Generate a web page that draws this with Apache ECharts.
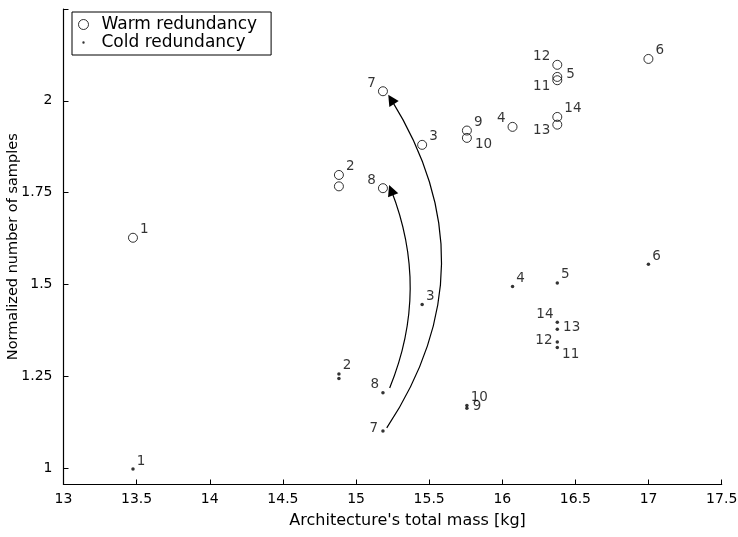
<!DOCTYPE html>
<html>
<head>
<meta charset="utf-8">
<script src="https://cdn.jsdelivr.net/npm/echarts@6/dist/echarts.min.js"></script>
<style>
html,body{margin:0;padding:0;background:#fff;}
#chart{width:738px;height:537px;}
</style>
</head>
<body>
<div id="chart"></div>
<script>
// ---- data ----
const xTicks = [13, 13.5, 14, 14.5, 15, 15.5, 16, 16.5, 17, 17.5];
const yTickLabels = [1, 1.25, 1.5, 1.75, 2];

// Warm redundancy (hollow circles)
const warmMass    = [13.475, 14.883, 14.883, 15.452, 16.07, 16.376, 16.999, 15.184, 15.184, 15.758, 15.758, 16.376, 16.376, 16.376, 16.376];
const warmSamples = [1.627, 1.798, 1.767, 1.880, 1.929, 2.065, 2.114, 2.026, 1.762, 1.919, 1.899, 2.056, 2.098, 1.935, 1.956];
const warmLabels  = ['1', '2', '', '3', '4', '5', '6', '7', '8', '9', '10', '11', '12', '13', '14'];
const warmPlace   = ['ur','ur','none','ur','ul','r','ur','ul','ul','ur','dr','dl','ul','dl','ur'];

// Cold redundancy (dots)
const coldMass    = [13.475, 14.883, 14.883, 15.452, 16.07, 16.376, 16.999, 15.184, 15.184, 15.758, 15.758, 16.376, 16.376, 16.376, 16.376];
const coldSamples = [0.997, 1.256, 1.244, 1.445, 1.494, 1.504, 1.555, 1.101, 1.205, 1.163, 1.170, 1.328, 1.343, 1.378, 1.397];
const coldLabels  = ['1', '2', '', '3', '4', '5', '6', '7', '8', '9', '10', '11', '12', '13', '14'];
const coldPlace   = ['ur','ur','none','ur','ur','ur','ur','l','ul','r','ur','dr','l','r','ul'];

// Arrows (cold -> warm for configurations 7 and 8)
const arrowStart = [[15.21, 1.109], [15.23, 1.218]];
const arrowEnd   = [[15.24, 2.004], [15.24, 1.757]];
const arrowCurve = [-0.32, -0.2];

// ---- styling helpers ----
const FONT = 'DejaVu Sans';
function labelFor(text, code) {
  if (code === 'none' || !text) return { show: false };
  const base = { show: true, formatter: text, color: '#000', fontFamily: FONT, fontSize: 13.5 };
  switch (code) {
    case 'ur': return Object.assign(base, { position: 'right', distance: 2, offset: [0, -8] });
    case 'r':  return Object.assign(base, { position: 'right', distance: 4, offset: [0, -2] });
    case 'dr': return Object.assign(base, { position: 'right', distance: 3, offset: [0, 7] });
    case 'ul': return Object.assign(base, { position: 'left', distance: 2, offset: [0, -8] });
    case 'l':  return Object.assign(base, { position: 'left', distance: 3, offset: [0, -2] });
    case 'dl': return Object.assign(base, { position: 'left', distance: 2, offset: [0, 6] });
  }
  return { show: false };
}

const warmData = warmMass.map((x, i) => ({ value: [x, warmSamples[i]], label: labelFor(warmLabels[i], warmPlace[i]) }));
const coldData = coldMass.map((x, i) => ({ value: [x, coldSamples[i]], label: labelFor(coldLabels[i], coldPlace[i]) }));
const arrowData = arrowStart.map((s, i) => ({ coords: [s, arrowEnd[i]], lineStyle: { curveness: arrowCurve[i] } }));

const chart = echarts.init(document.getElementById('chart'), null, { renderer: 'canvas' });
chart.setOption({
  animation: false,
  backgroundColor: '#fff',
  textStyle: { fontFamily: FONT, color: '#000' },
  grid: { left: 63.5, right: 16.3, top: 9, bottom: 52.5, containLabel: false, outerBoundsMode: 'none' },
  legend: {
    left: 72, top: 12,
    orient: 'vertical',
    borderColor: '#000', borderWidth: 1, borderRadius: 0,
    padding: [4, 14, 4, 6],
    itemGap: 1,
    itemWidth: 10, itemHeight: 10,
    textStyle: { fontFamily: FONT, fontSize: 17, color: '#000', padding: [0, 0, 0, 8] },
    data: [
      { name: 'Warm redundancy', icon: 'circle', itemStyle: { color: 'transparent', borderColor: '#000', borderWidth: 1 } },
      { name: 'Cold redundancy', icon: 'path://M0,0M10,10M3.8,5a1.2,1.2 0 1,0 2.4,0a1.2,1.2 0 1,0 -2.4,0', itemStyle: { color: '#000', borderWidth: 0 } }
    ]
  },
  xAxis: {
    type: 'value',
    min: xTicks[0], max: xTicks[xTicks.length - 1], interval: 0.5,
    name: "Architecture's total mass [kg]",
    nameLocation: 'middle', nameGap: 28, nameMoveOverlap: false,
    nameTextStyle: { fontFamily: FONT, fontSize: 16, color: '#000', padding: [0, 0, 0, 30] },
    axisLine: { show: true, onZero: false, lineStyle: { color: '#000', width: 1.2 } },
    axisTick: { show: true, inside: true, length: 5, lineStyle: { color: '#000' } },
    axisLabel: { color: '#000', fontFamily: FONT, fontSize: 14, margin: 8, showMinLabel: true, showMaxLabel: true },
    splitLine: { show: false }
  },
  yAxis: {
    type: 'value',
    min: 0.955, max: 2.25,
    name: 'Normalized number of samples',
    nameLocation: 'middle', nameGap: 43, nameMoveOverlap: false,
    nameTextStyle: { fontFamily: FONT, fontSize: 14.5, color: '#000' },
    axisLine: { show: true, onZero: false, lineStyle: { color: '#000', width: 1.2 } },
    axisTick: { show: true, inside: true, length: 5, lineStyle: { color: '#000' }, customValues: yTickLabels.concat([2.25]) },
    axisLabel: { color: '#000', fontFamily: FONT, fontSize: 14, margin: 11, customValues: yTickLabels, formatter: v => String(v) },
    splitLine: { show: false }
  },
  series: [
    {
      name: 'Warm redundancy', type: 'scatter', symbol: 'circle', symbolSize: 9,
      itemStyle: { color: 'transparent', borderColor: '#000', borderWidth: 1 },
      data: warmData, z: 3
    },
    {
      name: 'Cold redundancy', type: 'scatter', symbol: 'circle', symbolSize: 3.5,
      itemStyle: { color: '#000' },
      data: coldData, z: 3
    },
    {
      name: 'arrows', type: 'lines', coordinateSystem: 'cartesian2d',
      symbol: ['none', 'triangle'], symbolSize: [0, 11],
      lineStyle: { color: '#000', width: 1.2, opacity: 1 },
      data: arrowData, z: 2, silent: true
    }
  ]
});
</script>
</body>
</html>
